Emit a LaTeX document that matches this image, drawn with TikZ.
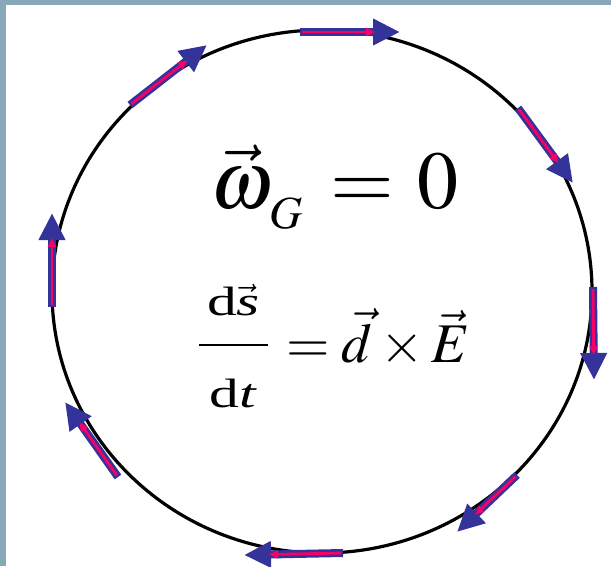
\documentclass[tikz,border=0pt]{standalone}
\usepackage{amsmath}
\usepackage{mathptmx}
\usepackage[no-math]{fontspec}
\usepackage{graphicx}
\usetikzlibrary{arrows.meta,calc}
\newfontfamily\fracfont[FakeStretch=1.45]{Liberation Serif}
\definecolor{framecol}{RGB}{136,168,186}
\definecolor{vblue}{RGB}{51,51,153}
\definecolor{vpink}{RGB}{250,0,102}
\tikzset{
  bluearr/.style={draw=vblue, fill=vblue, line width=8pt, -{Triangle[width=25pt,length=27pt]}},
  pinkarr/.style={draw=vpink, fill=vpink, line width=2.8pt, -{Triangle[width=8pt,length=9pt]}},
  eqtext/.style={inner sep=0pt, outer sep=0pt, anchor=base west},
}
\newcommand\spinarrow[3]{%
  \coordinate (#1s) at (#2);
  \coordinate (#1e) at (#3);
  \draw[bluearr] (#1s) -- (#1e);
  \draw[pinkarr] ($(#1s)!2pt!(#1e)$) -- ($(#1e)!25pt!(#1s)$);
}
% fraction: numerator, denominator, bar width
\newcommand\myfrac[3]{%
  \rlap{\raisebox{47pt}{\makebox[#3]{#1}}}%
  \rlap{\raisebox{-45pt}{\makebox[#3]{#2}}}%
  \rule[15.8pt]{#3}{2.6pt}}
\newcommand\fracpart[1]{{\fontsize{41}{44}\fracfont #1}}
\begin{document}
\begin{tikzpicture}[x=1pt,y=-1pt]
  \useasboundingbox (0,0) rectangle (611,566);
  \fill[framecol] (0,0) rectangle (611,566);
  \fill[white] (6,5) rectangle (611,566);
  \draw[line width=3.2pt, black] (322,291.5) ellipse [x radius=270pt, y radius=261.5pt];
  \spinarrow{a1}{300,32}{400,32}
  \spinarrow{a2}{518,108}{573,183}
  \spinarrow{a3}{593,287}{594,380}
  \spinarrow{a4}{517,475}{457,532}
  \spinarrow{a5}{343,553}{244,555}
  \spinarrow{a6}{118,477}{65,402}
  \spinarrow{a7}{52,307}{52,213}
  \spinarrow{a8}{130,105}{207,45}
  \node[eqtext] (eqa) at (210,208) {\fontsize{82}{86}\selectfont
    $\vec{\omega}$\kern-4pt\raisebox{-20pt}{\fontsize{46}{50}\selectfont$G$}\hspace{28pt}$=$\hspace{24pt}$0$};
  \node[eqtext] (eqb) at (199,362) {\fontsize{56}{60}\selectfont
    \myfrac{\fracpart{d$\vec{\hbox{\fracfont\itshape s}}$}}{\fracpart{d\textit{t}}}{69pt}%
    \hspace{18pt}$=\vec{d}\times\vec{E}$};
\end{tikzpicture}
\end{document}
